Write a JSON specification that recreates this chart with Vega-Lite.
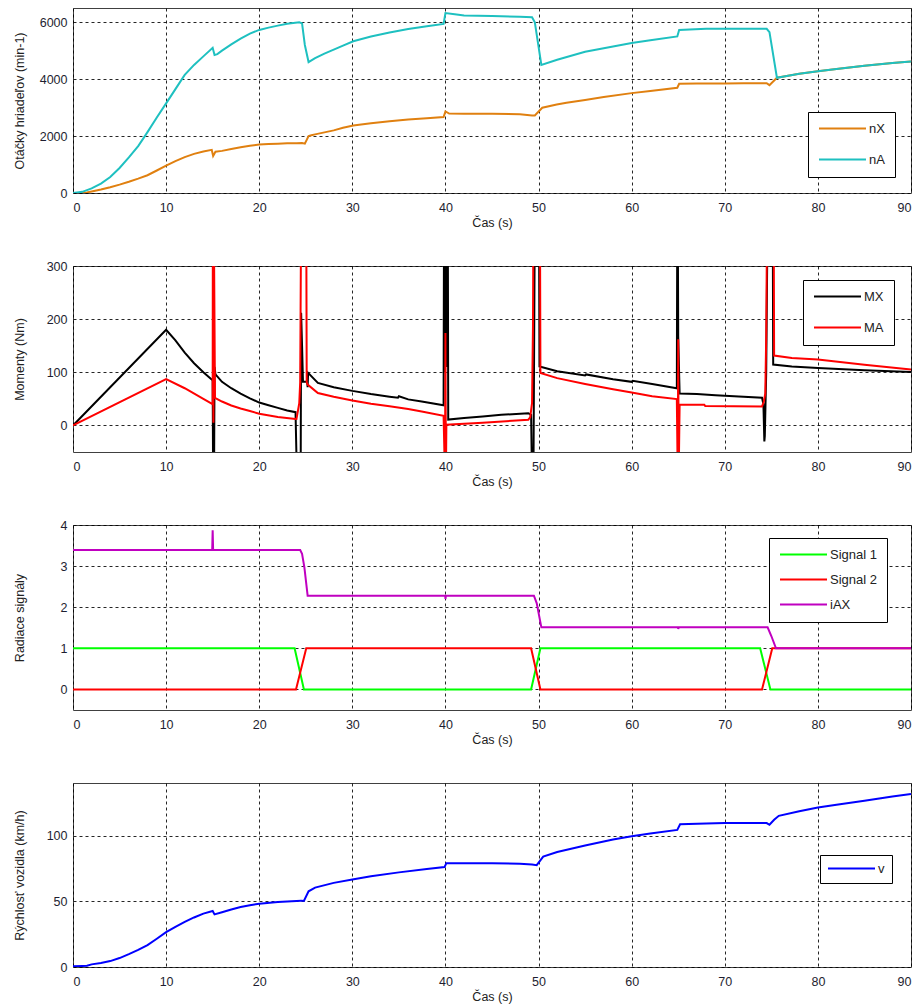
{
  "$schema": "https://vega.github.io/schema/vega-lite/v6.json",
  "padding": {"left": 12, "top": 7, "right": 3, "bottom": 2},
  "background": "white",
  "spacing": 73,
  "bounds": "flush",
  "datasets": {
    "n": [
      {"t":0,"v":0,"s":"nX"},{"t":1,"v":8,"s":"nX"},{"t":1.5,"v":20,"s":"nX"},{"t":2,"v":55,"s":"nX"},{"t":3,"v":125,"s":"nX"},{"t":4,"v":205,"s":"nX"},{"t":5,"v":295,"s":"nX"},{"t":6,"v":395,"s":"nX"},{"t":7,"v":505,"s":"nX"},{"t":8,"v":625,"s":"nX"},{"t":9,"v":790,"s":"nX"},{"t":10,"v":960,"s":"nX"},{"t":11,"v":1120,"s":"nX"},{"t":12,"v":1260,"s":"nX"},{"t":13,"v":1375,"s":"nX"},{"t":14,"v":1455,"s":"nX"},{"t":14.9,"v":1515,"s":"nX"},{"t":15.05,"v":1300,"s":"nX"},{"t":15.3,"v":1450,"s":"nX"},{"t":16,"v":1480,"s":"nX"},{"t":17,"v":1545,"s":"nX"},{"t":18,"v":1610,"s":"nX"},{"t":19,"v":1660,"s":"nX"},{"t":20,"v":1700,"s":"nX"},{"t":21,"v":1720,"s":"nX"},{"t":22,"v":1733,"s":"nX"},{"t":23,"v":1745,"s":"nX"},{"t":24,"v":1752,"s":"nX"},{"t":24.6,"v":1754,"s":"nX"},{"t":24.9,"v":1735,"s":"nX"},{"t":25.3,"v":2000,"s":"nX"},{"t":25.6,"v":2030,"s":"nX"},{"t":26,"v":2060,"s":"nX"},{"t":27,"v":2130,"s":"nX"},{"t":28,"v":2200,"s":"nX"},{"t":29,"v":2290,"s":"nX"},{"t":30.1,"v":2375,"s":"nX"},{"t":32,"v":2450,"s":"nX"},{"t":34,"v":2520,"s":"nX"},{"t":36,"v":2580,"s":"nX"},{"t":38,"v":2625,"s":"nX"},{"t":39.8,"v":2667,"s":"nX"},{"t":40,"v":2866,"s":"nX"},{"t":40.4,"v":2790,"s":"nX"},{"t":42,"v":2785,"s":"nX"},{"t":45,"v":2785,"s":"nX"},{"t":48,"v":2770,"s":"nX"},{"t":49.3,"v":2726,"s":"nX"},{"t":49.6,"v":2726,"s":"nX"},{"t":50.4,"v":2996,"s":"nX"},{"t":51.95,"v":3112,"s":"nX"},{"t":53,"v":3170,"s":"nX"},{"t":55,"v":3270,"s":"nX"},{"t":57,"v":3370,"s":"nX"},{"t":60,"v":3509,"s":"nX"},{"t":62,"v":3580,"s":"nX"},{"t":64.9,"v":3698,"s":"nX"},{"t":65.1,"v":3838,"s":"nX"},{"t":67,"v":3845,"s":"nX"},{"t":70,"v":3850,"s":"nX"},{"t":72,"v":3855,"s":"nX"},{"t":74.5,"v":3860,"s":"nX"},{"t":74.8,"v":3790,"s":"nX"},{"t":75.6,"v":4050,"s":"nX"},{"t":78,"v":4190,"s":"nX"},{"t":80,"v":4280,"s":"nX"},{"t":82,"v":4360,"s":"nX"},{"t":85,"v":4470,"s":"nX"},{"t":88,"v":4570,"s":"nX"},{"t":90,"v":4620,"s":"nX"},
      {"t":0,"v":0,"s":"nA"},{"t":1,"v":40,"s":"nA"},{"t":2,"v":160,"s":"nA"},{"t":3,"v":330,"s":"nA"},{"t":4,"v":560,"s":"nA"},{"t":5,"v":880,"s":"nA"},{"t":6,"v":1250,"s":"nA"},{"t":7,"v":1650,"s":"nA"},{"t":7.7,"v":1990,"s":"nA"},{"t":8,"v":2140,"s":"nA"},{"t":9,"v":2650,"s":"nA"},{"t":10,"v":3150,"s":"nA"},{"t":11,"v":3650,"s":"nA"},{"t":11.7,"v":4000,"s":"nA"},{"t":12,"v":4150,"s":"nA"},{"t":13,"v":4500,"s":"nA"},{"t":14,"v":4800,"s":"nA"},{"t":15,"v":5100,"s":"nA"},{"t":15.2,"v":4850,"s":"nA"},{"t":15.5,"v":4880,"s":"nA"},{"t":16,"v":5000,"s":"nA"},{"t":17,"v":5220,"s":"nA"},{"t":18,"v":5420,"s":"nA"},{"t":19,"v":5600,"s":"nA"},{"t":20,"v":5730,"s":"nA"},{"t":21,"v":5810,"s":"nA"},{"t":22,"v":5880,"s":"nA"},{"t":23,"v":5950,"s":"nA"},{"t":24.3,"v":6000,"s":"nA"},{"t":24.6,"v":5960,"s":"nA"},{"t":24.9,"v":5200,"s":"nA"},{"t":25.3,"v":4600,"s":"nA"},{"t":26,"v":4740,"s":"nA"},{"t":27,"v":4900,"s":"nA"},{"t":28,"v":5040,"s":"nA"},{"t":29,"v":5180,"s":"nA"},{"t":30.1,"v":5330,"s":"nA"},{"t":32,"v":5500,"s":"nA"},{"t":34,"v":5640,"s":"nA"},{"t":36,"v":5760,"s":"nA"},{"t":38,"v":5860,"s":"nA"},{"t":39.8,"v":5940,"s":"nA"},{"t":40,"v":6320,"s":"nA"},{"t":41,"v":6280,"s":"nA"},{"t":42,"v":6240,"s":"nA"},{"t":45,"v":6215,"s":"nA"},{"t":48,"v":6190,"s":"nA"},{"t":49.3,"v":6175,"s":"nA"},{"t":49.6,"v":6000,"s":"nA"},{"t":50.3,"v":4500,"s":"nA"},{"t":52,"v":4680,"s":"nA"},{"t":55,"v":4960,"s":"nA"},{"t":58,"v":5150,"s":"nA"},{"t":60,"v":5270,"s":"nA"},{"t":62,"v":5370,"s":"nA"},{"t":64.9,"v":5500,"s":"nA"},{"t":65.1,"v":5730,"s":"nA"},{"t":68,"v":5770,"s":"nA"},{"t":74.5,"v":5770,"s":"nA"},{"t":74.8,"v":5650,"s":"nA"},{"t":75.6,"v":4050,"s":"nA"},{"t":78,"v":4190,"s":"nA"},{"t":80,"v":4280,"s":"nA"},{"t":82,"v":4360,"s":"nA"},{"t":85,"v":4470,"s":"nA"},{"t":88,"v":4570,"s":"nA"},{"t":90,"v":4620,"s":"nA"}
    ],
    "m": [
      {"t":0,"v":0,"s":"MX"},{"t":10,"v":180,"s":"MX"},{"t":11,"v":160,"s":"MX"},{"t":12,"v":137,"s":"MX"},{"t":13,"v":117,"s":"MX"},{"t":14,"v":100,"s":"MX"},{"t":14.8,"v":88,"s":"MX"},{"t":15,"v":85,"s":"MX"},{"t":15.05,"v":-100,"s":"MX"},{"t":15.15,"v":-100,"s":"MX"},{"t":15.2,"v":110,"s":"MX"},{"t":15.3,"v":96,"s":"MX"},{"t":16,"v":82,"s":"MX"},{"t":17,"v":70,"s":"MX"},{"t":18,"v":60,"s":"MX"},{"t":19,"v":51,"s":"MX"},{"t":20,"v":43,"s":"MX"},{"t":21,"v":38,"s":"MX"},{"t":22,"v":33,"s":"MX"},{"t":23,"v":28,"s":"MX"},{"t":23.9,"v":25,"s":"MX"},{"t":24.05,"v":-100,"s":"MX"},{"t":24.45,"v":-100,"s":"MX"},{"t":24.5,"v":212,"s":"MX"},{"t":24.6,"v":150,"s":"MX"},{"t":24.7,"v":82,"s":"MX"},{"t":25.15,"v":82,"s":"MX"},{"t":25.2,"v":72,"s":"MX"},{"t":25.25,"v":99,"s":"MX"},{"t":26.3,"v":80,"s":"MX"},{"t":28,"v":72,"s":"MX"},{"t":30,"v":65,"s":"MX"},{"t":32,"v":59,"s":"MX"},{"t":34,"v":54,"s":"MX"},{"t":34.9,"v":52,"s":"MX"},{"t":35,"v":55,"s":"MX"},{"t":36,"v":49,"s":"MX"},{"t":37.45,"v":45,"s":"MX"},{"t":39.8,"v":38,"s":"MX"},{"t":39.85,"v":400,"s":"MX"},{"t":39.95,"v":100,"s":"MX"},{"t":40.05,"v":400,"s":"MX"},{"t":40.15,"v":110,"s":"MX"},{"t":40.25,"v":400,"s":"MX"},{"t":40.3,"v":11,"s":"MX"},{"t":42,"v":14,"s":"MX"},{"t":44,"v":17,"s":"MX"},{"t":46,"v":20,"s":"MX"},{"t":48.9,"v":23,"s":"MX"},{"t":49.2,"v":20,"s":"MX"},{"t":49.3,"v":-100,"s":"MX"},{"t":49.45,"v":-100,"s":"MX"},{"t":49.6,"v":400,"s":"MX"},{"t":50.05,"v":400,"s":"MX"},{"t":50.1,"v":111,"s":"MX"},{"t":52,"v":102,"s":"MX"},{"t":55,"v":94,"s":"MX"},{"t":55.1,"v":96,"s":"MX"},{"t":58,"v":87,"s":"MX"},{"t":60,"v":82,"s":"MX"},{"t":60.1,"v":84,"s":"MX"},{"t":62.2,"v":78,"s":"MX"},{"t":64.85,"v":70,"s":"MX"},{"t":64.9,"v":400,"s":"MX"},{"t":64.95,"v":400,"s":"MX"},{"t":65,"v":168,"s":"MX"},{"t":65.15,"v":60,"s":"MX"},{"t":67,"v":59,"s":"MX"},{"t":69,"v":57,"s":"MX"},{"t":71,"v":55,"s":"MX"},{"t":74,"v":52,"s":"MX"},{"t":74.15,"v":40,"s":"MX"},{"t":74.25,"v":-30,"s":"MX"},{"t":74.3,"v":-20,"s":"MX"},{"t":74.45,"v":100,"s":"MX"},{"t":74.6,"v":400,"s":"MX"},{"t":75.15,"v":400,"s":"MX"},{"t":75.2,"v":114.5,"s":"MX"},{"t":77.2,"v":111,"s":"MX"},{"t":80,"v":108,"s":"MX"},{"t":85,"v":104,"s":"MX"},{"t":90,"v":100.5,"s":"MX"},
      {"t":0,"v":0,"s":"MA"},{"t":10,"v":87,"s":"MA"},{"t":12,"v":70,"s":"MA"},{"t":14,"v":50,"s":"MA"},{"t":14.8,"v":42,"s":"MA"},{"t":15,"v":40,"s":"MA"},{"t":15.02,"v":400,"s":"MA"},{"t":15.08,"v":5,"s":"MA"},{"t":15.12,"v":400,"s":"MA"},{"t":15.25,"v":52,"s":"MA"},{"t":16,"v":45,"s":"MA"},{"t":17,"v":37.5,"s":"MA"},{"t":18,"v":32,"s":"MA"},{"t":19,"v":27,"s":"MA"},{"t":20,"v":22,"s":"MA"},{"t":22,"v":16,"s":"MA"},{"t":23.9,"v":12,"s":"MA"},{"t":24,"v":12,"s":"MA"},{"t":24.3,"v":42,"s":"MA"},{"t":24.4,"v":81,"s":"MA"},{"t":24.5,"v":400,"s":"MA"},{"t":25.05,"v":400,"s":"MA"},{"t":25.1,"v":81,"s":"MA"},{"t":25.2,"v":77,"s":"MA"},{"t":26.3,"v":61,"s":"MA"},{"t":28,"v":54,"s":"MA"},{"t":30,"v":47,"s":"MA"},{"t":32,"v":41,"s":"MA"},{"t":34,"v":36,"s":"MA"},{"t":36,"v":31,"s":"MA"},{"t":37.45,"v":26.4,"s":"MA"},{"t":39.8,"v":18.3,"s":"MA"},{"t":39.95,"v":-100,"s":"MA"},{"t":40,"v":174,"s":"MA"},{"t":40.05,"v":-100,"s":"MA"},{"t":40.1,"v":1.3,"s":"MA"},{"t":44,"v":5,"s":"MA"},{"t":48.9,"v":10.7,"s":"MA"},{"t":49.1,"v":15,"s":"MA"},{"t":49.3,"v":42,"s":"MA"},{"t":49.4,"v":186,"s":"MA"},{"t":49.45,"v":400,"s":"MA"},{"t":50.15,"v":400,"s":"MA"},{"t":50.2,"v":98.7,"s":"MA"},{"t":52,"v":89,"s":"MA"},{"t":55,"v":78,"s":"MA"},{"t":58,"v":68,"s":"MA"},{"t":60,"v":62,"s":"MA"},{"t":62.2,"v":55,"s":"MA"},{"t":64.85,"v":49.6,"s":"MA"},{"t":64.95,"v":-100,"s":"MA"},{"t":65,"v":162,"s":"MA"},{"t":65.05,"v":-100,"s":"MA"},{"t":65.15,"v":39,"s":"MA"},{"t":67.8,"v":39,"s":"MA"},{"t":67.9,"v":36.5,"s":"MA"},{"t":74,"v":35.8,"s":"MA"},{"t":74.2,"v":45,"s":"MA"},{"t":74.35,"v":60,"s":"MA"},{"t":74.45,"v":168,"s":"MA"},{"t":74.55,"v":400,"s":"MA"},{"t":75.25,"v":400,"s":"MA"},{"t":75.3,"v":131.5,"s":"MA"},{"t":77.2,"v":127,"s":"MA"},{"t":80,"v":124,"s":"MA"},{"t":85,"v":114,"s":"MA"},{"t":90,"v":105,"s":"MA"}
    ],
    "sig": [
      {"t":0,"v":1,"s":"Signal 1"},{"t":23.8,"v":1,"s":"Signal 1"},{"t":24.8,"v":0,"s":"Signal 1"},{"t":49.2,"v":0,"s":"Signal 1"},{"t":50.2,"v":1,"s":"Signal 1"},{"t":73.8,"v":1,"s":"Signal 1"},{"t":74.9,"v":0,"s":"Signal 1"},{"t":90,"v":0,"s":"Signal 1"},
      {"t":0,"v":0,"s":"Signal 2"},{"t":23.95,"v":0,"s":"Signal 2"},{"t":25.05,"v":1,"s":"Signal 2"},{"t":49.2,"v":1,"s":"Signal 2"},{"t":50.2,"v":0,"s":"Signal 2"},{"t":74,"v":0,"s":"Signal 2"},{"t":75.1,"v":1,"s":"Signal 2"},{"t":90,"v":1,"s":"Signal 2"},
      {"t":0,"v":3.39,"s":"iAX"},{"t":14.95,"v":3.39,"s":"iAX"},{"t":15,"v":3.87,"s":"iAX"},{"t":15.05,"v":3.39,"s":"iAX"},{"t":24.4,"v":3.39,"s":"iAX"},{"t":24.6,"v":3.3,"s":"iAX"},{"t":24.85,"v":2.97,"s":"iAX"},{"t":25.2,"v":2.28,"s":"iAX"},{"t":39.98,"v":2.28,"s":"iAX"},{"t":40,"v":2.2,"s":"iAX"},{"t":40.05,"v":2.28,"s":"iAX"},{"t":49.5,"v":2.28,"s":"iAX"},{"t":49.8,"v":2.1,"s":"iAX"},{"t":50.3,"v":1.51,"s":"iAX"},{"t":64.98,"v":1.51,"s":"iAX"},{"t":65,"v":1.47,"s":"iAX"},{"t":65.05,"v":1.51,"s":"iAX"},{"t":74.6,"v":1.51,"s":"iAX"},{"t":75,"v":1.3,"s":"iAX"},{"t":75.5,"v":1,"s":"iAX"},{"t":90,"v":1,"s":"iAX"}
    ],
    "vel": [
      {"t":0,"v":0.5,"s":"v"},{"t":1,"v":0.8,"s":"v"},{"t":1.5,"v":1,"s":"v"},{"t":2,"v":2,"s":"v"},{"t":3,"v":3,"s":"v"},{"t":4,"v":4.5,"s":"v"},{"t":5,"v":6.8,"s":"v"},{"t":6,"v":9.8,"s":"v"},{"t":7,"v":13,"s":"v"},{"t":8,"v":16.7,"s":"v"},{"t":9,"v":21.5,"s":"v"},{"t":10,"v":26.5,"s":"v"},{"t":11,"v":30.6,"s":"v"},{"t":12,"v":34.3,"s":"v"},{"t":13,"v":37.7,"s":"v"},{"t":14,"v":40.6,"s":"v"},{"t":15,"v":42.6,"s":"v"},{"t":15.2,"v":40,"s":"v"},{"t":16,"v":41.7,"s":"v"},{"t":17,"v":43.8,"s":"v"},{"t":18,"v":45.7,"s":"v"},{"t":19,"v":47,"s":"v"},{"t":20,"v":48.2,"s":"v"},{"t":22,"v":49.5,"s":"v"},{"t":24.5,"v":50.5,"s":"v"},{"t":24.8,"v":50.2,"s":"v"},{"t":25.3,"v":57.6,"s":"v"},{"t":26,"v":60.4,"s":"v"},{"t":28,"v":64,"s":"v"},{"t":30,"v":66.5,"s":"v"},{"t":32,"v":69,"s":"v"},{"t":35,"v":72,"s":"v"},{"t":38,"v":74.5,"s":"v"},{"t":39.9,"v":76,"s":"v"},{"t":40.1,"v":79,"s":"v"},{"t":45,"v":79,"s":"v"},{"t":48,"v":78.5,"s":"v"},{"t":49.3,"v":78,"s":"v"},{"t":49.8,"v":77.5,"s":"v"},{"t":50.5,"v":84,"s":"v"},{"t":52,"v":87.5,"s":"v"},{"t":55,"v":92.5,"s":"v"},{"t":58,"v":97,"s":"v"},{"t":60,"v":99.5,"s":"v"},{"t":62,"v":101.5,"s":"v"},{"t":64.9,"v":104.3,"s":"v"},{"t":65.2,"v":108.6,"s":"v"},{"t":68,"v":109.2,"s":"v"},{"t":70,"v":109.6,"s":"v"},{"t":74.5,"v":109.5,"s":"v"},{"t":74.8,"v":108.2,"s":"v"},{"t":75.3,"v":112,"s":"v"},{"t":75.8,"v":115,"s":"v"},{"t":78,"v":118.5,"s":"v"},{"t":80,"v":121.4,"s":"v"},{"t":82,"v":123.5,"s":"v"},{"t":85,"v":126.5,"s":"v"},{"t":88,"v":129.8,"s":"v"},{"t":90,"v":131.6,"s":"v"}
    ]
  },
  "resolve": {"scale": {"color": "independent", "y": "independent"}, "legend": {"color": "independent"}},
  "vconcat": [
    {
      "width": 838, "height": 185,
      "data": {"name": "n"},
      "mark": {"type": "line", "clip": true, "strokeWidth": 2},
      "encoding": {
        "x": {"field": "t", "type": "quantitative", "scale": {"domain": [0, 90], "nice": false}, "axis": {"title": "Čas (s)", "values": [0,10,20,30,40,50,60,70,80,90]}},
        "y": {"field": "v", "type": "quantitative", "scale": {"domain": [0, 6500], "nice": false}, "axis": {"title": "Otáčky hriadeľov (min-1)", "values": [0,2000,4000,6000], "format": "d"}},
        "color": {"field": "s", "type": "nominal", "scale": {"domain": ["nX","nA"], "range": ["#E08010","#1EC0C0"]}, "legend": {"legendX": 735, "legendY": 104, "padding": 10, "rowPadding": 17}}
      }
    },
    {
      "width": 838, "height": 186,
      "data": {"name": "m"},
      "mark": {"type": "line", "clip": true, "strokeWidth": 2},
      "encoding": {
        "x": {"field": "t", "type": "quantitative", "scale": {"domain": [0, 90], "nice": false}, "axis": {"title": "Čas (s)", "values": [0,10,20,30,40,50,60,70,80,90]}},
        "y": {"field": "v", "type": "quantitative", "scale": {"domain": [-50, 300], "nice": false}, "axis": {"title": "Momenty (Nm)", "values": [0,100,200,300], "format": "d"}},
        "color": {"field": "s", "type": "nominal", "scale": {"domain": ["MX","MA"], "range": ["#000000","#FF0000"]}, "legend": {"legendX": 730, "legendY": 14, "padding": 10, "rowPadding": 17}}
      }
    },
    {
      "width": 838, "height": 185,
      "data": {"name": "sig"},
      "mark": {"type": "line", "clip": true, "strokeWidth": 2},
      "encoding": {
        "x": {"field": "t", "type": "quantitative", "scale": {"domain": [0, 90], "nice": false}, "axis": {"title": "Čas (s)", "values": [0,10,20,30,40,50,60,70,80,90]}},
        "y": {"field": "v", "type": "quantitative", "scale": {"domain": [-0.5, 4], "nice": false}, "axis": {"title": "Radiace signály", "values": [0,1,2,3,4], "format": "d"}},
        "color": {"field": "s", "type": "nominal", "scale": {"domain": ["Signal 1","Signal 2","iAX"], "range": ["#00FF00","#FF0000","#C000C0"]}, "legend": {"legendX": 696, "legendY": 13, "padding": 10, "rowPadding": 11}}
      }
    },
    {
      "width": 838, "height": 184,
      "data": {"name": "vel"},
      "mark": {"type": "line", "clip": true, "strokeWidth": 2},
      "encoding": {
        "x": {"field": "t", "type": "quantitative", "scale": {"domain": [0, 90], "nice": false}, "axis": {"title": "Čas (s)", "values": [0,10,20,30,40,50,60,70,80,90]}},
        "y": {"field": "v", "type": "quantitative", "scale": {"domain": [0, 140], "nice": false}, "axis": {"title": "Rýchlosť vozidla (km/h)", "values": [0,50,100], "format": "d"}},
        "color": {"field": "s", "type": "nominal", "scale": {"domain": ["v"], "range": ["#0000FF"]}, "legend": {"legendX": 747, "legendY": 72, "padding": 7, "rowPadding": 0}}
      }
    }
  ],
  "config": {
    "font": "Liberation Sans",
    "view": {"stroke": "#404040", "strokeWidth": 1},
    "axis": {
      "grid": true, "gridColor": "#000000", "gridDash": [3, 3], "gridOpacity": 0.85, "gridWidth": 1,
      "domain": false, "ticks": false,
      "labelFontSize": 12.5, "labelColor": "#1e1e30", "labelPadding": 8,
      "titleFontSize": 12.5, "titleFontWeight": "normal", "titleColor": "#222222", "titlePadding": 3
    },
    "axisY": {"titleX": -47, "labelPadding": 6},
    "legend": {
      "orient": "none", "title": null,
      "strokeColor": "#000000", "fillColor": "#ffffff",
      "symbolType": "M-4.7,0H4.7", "symbolSize": 100, "symbolStrokeWidth": 2, "symbolOffset": 18,
      "labelFontSize": 13, "labelColor": "#222222", "labelOffset": 20
    }
  }
}
